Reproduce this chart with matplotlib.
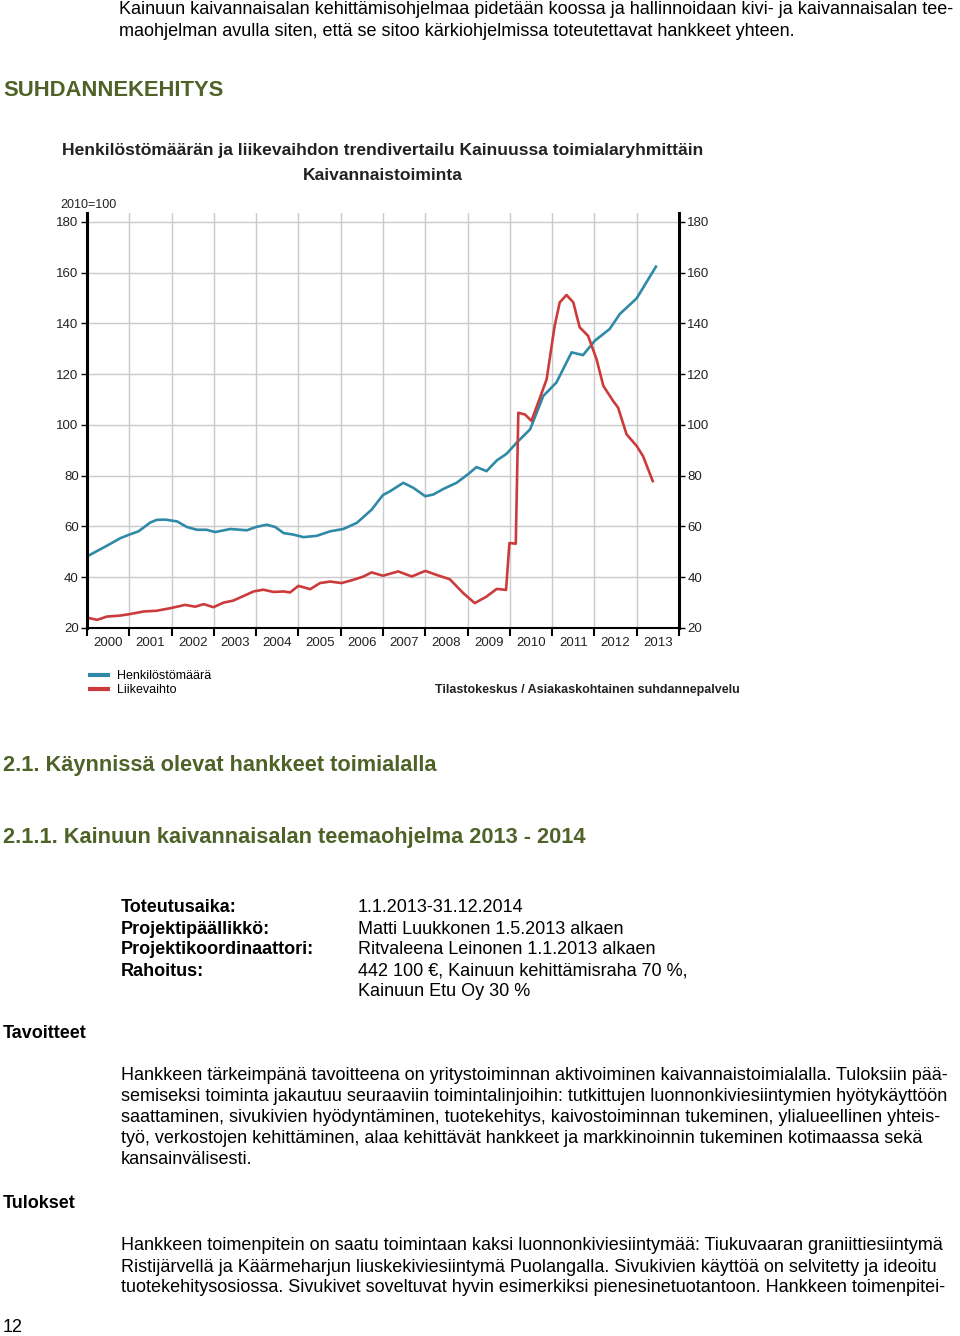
import matplotlib
matplotlib.use('Agg')
import numpy as np
from matplotlib import pyplot as plt
from matplotlib.ticker import FixedLocator, NullFormatter, FixedFormatter

# Henkilöstömäärä (2010=100), luettu kuvasta
hen_x = [2000.0, 2000.47, 2000.79, 2001.0, 2001.22, 2001.5, 2001.65, 2001.85, 2002.13, 2002.36,
         2002.6, 2002.83, 2003.03, 2003.39, 2003.78, 2004.0, 2004.25, 2004.45, 2004.65, 2004.88,
         2005.12, 2005.43, 2005.75, 2006.06, 2006.38, 2006.73, 2007.0, 2007.17, 2007.48, 2007.72,
         2008.0, 2008.19, 2008.43, 2008.74, 2009.02, 2009.21, 2009.45, 2009.69, 2009.92, 2010.16,
         2010.48, 2010.79, 2011.1, 2011.46, 2011.73, 2012.01, 2012.36, 2012.6, 2013.0, 2013.47]
hen_y = [48.2, 52.4, 55.4, 56.8, 58.1, 61.6, 62.6, 62.7, 62.0, 59.8,
         58.7, 58.7, 57.8, 59.0, 58.5, 59.8, 60.7, 59.8, 57.4, 56.8,
         55.8, 56.3, 58.1, 59.0, 61.4, 66.6, 72.4, 73.9, 77.2, 75.2,
         71.9, 72.6, 74.8, 77.2, 80.7, 83.4, 81.8, 86.0, 88.6, 93.0,
         98.3, 111.4, 116.7, 128.6, 127.5, 133.2, 137.8, 143.7, 149.9, 162.8]

# Liikevaihto (2010=100)
lv_x = [2000.0, 2000.24, 2000.47, 2000.79, 2001.02, 2001.34, 2001.65, 2001.97, 2002.32, 2002.56,
        2002.76, 2002.99, 2003.23, 2003.46, 2003.7, 2003.94, 2004.17, 2004.41, 2004.65, 2004.8,
        2005.0, 2005.28, 2005.51, 2005.75, 2006.02, 2006.3, 2006.54, 2006.73, 2007.0, 2007.36,
        2007.68, 2008.0, 2008.27, 2008.58, 2008.9, 2009.17, 2009.45, 2009.69, 2009.91, 2009.99,
        2010.14, 2010.2, 2010.36, 2010.51, 2010.67, 2010.87, 2011.06, 2011.18, 2011.34, 2011.5,
        2011.65, 2011.85, 2012.05, 2012.21, 2012.44, 2012.56, 2012.76, 2013.0, 2013.15, 2013.39]
lv_y = [24.1, 23.2, 24.5, 24.9, 25.5, 26.5, 26.8, 27.8, 29.1, 28.4,
        29.4, 28.2, 30.0, 30.8, 32.6, 34.4, 35.1, 34.2, 34.4, 34.0,
        36.6, 35.3, 37.7, 38.3, 37.7, 39.0, 40.3, 41.9, 40.6, 42.3,
        40.3, 42.5, 40.9, 39.2, 33.7, 29.8, 32.4, 35.4, 35.0, 53.5,
        53.2, 104.8, 104.1, 101.6, 108.8, 118.0, 139.1, 148.3, 151.2, 148.3,
        138.5, 135.1, 125.9, 115.4, 109.5, 106.8, 96.3, 91.7, 87.7, 77.4]

years = list(range(2000, 2014))
y_ticks = [20, 40, 60, 80, 100, 120, 140, 160, 180]

W, H = 960, 1336
GREEN = '#4f6228'
BODY = ['Liberation Sans', 'DejaVu Sans']
NARROW = ['Liberation Sans Narrow', 'Liberation Sans', 'DejaVu Sans']


def fx(x):
    return x / W


def fy(y):
    return 1 - y / H


fig = plt.figure(figsize=(W / 100, H / 100), dpi=100)
fig.patch.set_facecolor('white')


def txt(x, y, s, size=13, weight='normal', color='black', family=BODY, ha='left'):
    fig.text(fx(x), fy(y), s, fontsize=size, fontweight=weight, color=color,
             family=family, ha=ha, va='center')


# tekstit ennen kaaviota
txt(119, 10, 'Kainuun kaivannaisalan kehittämisohjelmaa pidetään koossa ja hallinnoidaan kivi- ja kaivannaisalan tee-')
txt(119, 32, 'maohjelman avulla siten, että se sitoo kärkiohjelmissa toteutettavat hankkeet yhteen.')
txt(3, 90, 'SUHDANNEKEHITYS', size=15.8, weight='bold', color=GREEN)

# kaavio
ax = fig.add_axes([fx(87), fy(628), fx(679) - fx(87), (628 - 213) / H])
ax.plot(hen_x, hen_y, color='#2f8aa8', lw=1.9, label='Henkilöstömäärä', solid_capstyle='butt')
ax.plot(lv_x, lv_y, color='#cc3b3b', lw=1.9, label='Liikevaihto', solid_capstyle='butt')
ax.set_xlim(2000, 2014)
ax.set_ylim(20, 183.5)

ax.xaxis.set_major_locator(FixedLocator(years + [2014]))
ax.xaxis.set_major_formatter(NullFormatter())
ax.xaxis.set_minor_locator(FixedLocator([y + 0.5 for y in years]))
ax.xaxis.set_minor_formatter(FixedFormatter([str(y) for y in years]))
ax.tick_params(axis='x', which='major', direction='out', length=6, width=1.5, color='black')
ax.tick_params(axis='x', which='minor', length=0, pad=6.5, labelsize=9.5)
ax.set_yticks(y_ticks)
ax.tick_params(axis='y', which='both', direction='out', length=4, width=1, labelsize=9.5,
               left=True, right=True, labelleft=True, labelright=True, pad=2)
for lab in ax.get_xticklabels(minor=True) + ax.get_yticklabels():
    lab.set_family(NARROW)
    lab.set_color('#222222')
ax.grid(True, which='major', color='#cbcbcb', lw=1.0)
ax.set_axisbelow(True)
ax.spines['top'].set_visible(False)
for side in ['left', 'right']:
    ax.spines[side].set_linewidth(2.2)
ax.spines['bottom'].set_linewidth(1.5)

txt(383, 150, 'Henkilöstömäärän ja liikevaihdon trendivertailu Kainuussa toimialaryhmittäin',
    size=12.6, weight='bold', family=NARROW, ha='center', color='#222222')
txt(383, 175, 'Kaivannaistoiminta', size=12.6, weight='bold', family=NARROW, ha='center', color='#222222')
txt(60, 205, '2010=100', size=9, family=NARROW, color='#222222')

leg = fig.legend(loc='upper left', bbox_to_anchor=(fx(77), fy(659)), frameon=False,
                 handlelength=1.7, handletextpad=0.6, labelspacing=0.15,
                 prop={'family': NARROW, 'size': 9})
for line in leg.get_lines():
    line.set_linewidth(3)
txt(435, 690, 'Tilastokeskus / Asiakaskohtainen suhdannepalvelu', size=9, weight='bold',
    family=NARROW, color='#222222')

# otsikot
txt(3, 765, '2.1. Käynnissä olevat hankkeet toimialalla', size=15.7, weight='bold', color=GREEN)
txt(3, 838, '2.1.1. Kainuun kaivannaisalan teemaohjelma 2013 - 2014', size=15.7, weight='bold', color=GREEN)

# hanketiedot
labels = ['Toteutusaika:', 'Projektipäällikkö:', 'Projektikoordinaattori:', 'Rahoitus:']
values = ['1.1.2013-31.12.2014', 'Matti Luukkonen 1.5.2013 alkaen',
          'Ritvaleena Leinonen 1.1.2013 alkaen', '442 100 €, Kainuun kehittämisraha 70 %,',
          'Kainuun Etu Oy 30 %']
for i, s in enumerate(labels):
    txt(121, 908 + i * 21, s, weight='bold')
for i, s in enumerate(values):
    txt(358, 908 + i * 21, s)

txt(3, 1034, 'Tavoitteet', weight='bold')
tavoitteet = [
    'Hankkeen tärkeimpänä tavoitteena on yritystoiminnan aktivoiminen kaivannaistoimialalla. Tuloksiin pää-',
    'semiseksi toiminta jakautuu seuraaviin toimintalinjoihin: tutkittujen luonnonkiviesiintymien hyötykäyttöön',
    'saattaminen, sivukivien hyödyntäminen, tuotekehitys, kaivostoiminnan tukeminen, ylialueellinen yhteis-',
    'työ, verkostojen kehittäminen, alaa kehittävät hankkeet ja markkinoinnin tukeminen kotimaassa sekä',
    'kansainvälisesti.',
]
for i, s in enumerate(tavoitteet):
    txt(121, 1076 + i * 20.8, s)

txt(3, 1204, 'Tulokset', weight='bold')
tulokset = [
    'Hankkeen toimenpitein on saatu toimintaan kaksi luonnonkiviesiintymää: Tiukuvaaran graniittiesiintymä',
    'Ristijärvellä ja Käärmeharjun liuskekiviesiintymä Puolangalla. Sivukivien käyttöä on selvitetty ja ideoitu',
    'tuotekehitysosiossa. Sivukivet soveltuvat hyvin esimerkiksi pienesinetuotantoon. Hankkeen toimenpitei-',
]
for i, s in enumerate(tulokset):
    txt(121, 1246 + i * 21, s)

txt(3, 1327, '12')

fig.savefig('out.png', dpi=100, facecolor='white')
